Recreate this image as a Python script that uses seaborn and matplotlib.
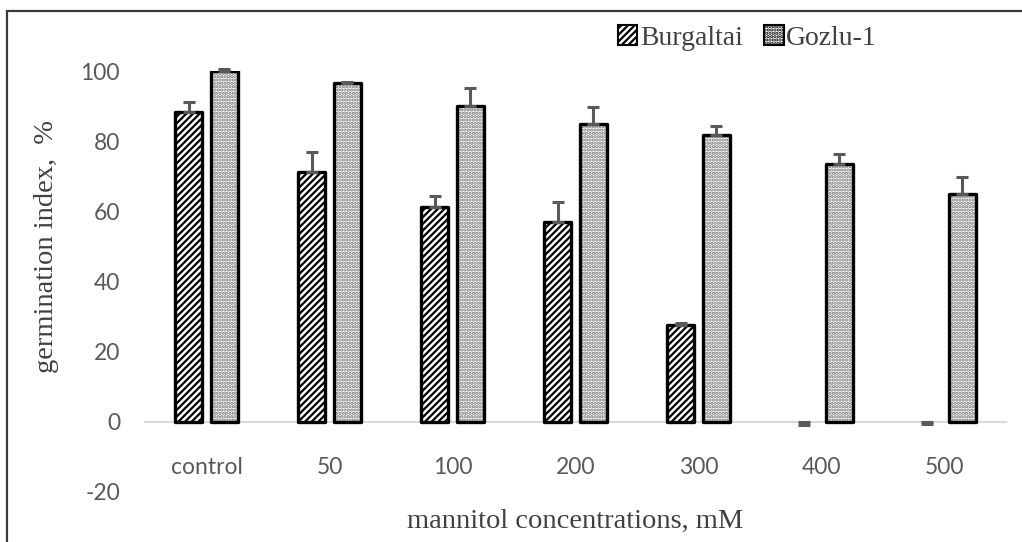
import matplotlib
matplotlib.use("Agg")
import matplotlib.pyplot as plt
import pandas as pd
import seaborn as sns
from matplotlib.patches import Rectangle

# Germination index (%) of two varieties under mannitol stress
categories = ["control", "50", "100", "200", "300", "400", "500"]
series_names = ["Burgaltai", "Gozlu-1"]
burgaltai = [88.2, 71.2, 61.2, 57.0, 27.5, 0.0, 0.0]
burgaltai_err = [3.0, 5.8, 3.3, 5.8, 0.6, 1.0, 0.5]
gozlu = [100.0, 96.5, 90.0, 85.0, 81.8, 73.5, 64.9]
gozlu_err = [0.5, 0.4, 5.2, 4.8, 2.6, 2.8, 5.0]
y_ticks = [-20, 0, 20, 40, 60, 80, 100]

sns.set_theme(style="white")
plt.rcParams["font.family"] = ["Liberation Serif", "DejaVu Serif"]
plt.rcParams["hatch.linewidth"] = 1.6

df = pd.DataFrame({
    "concentration": categories * 2,
    "variety": [series_names[0]] * len(categories) + [series_names[1]] * len(categories),
    "value": burgaltai + gozlu,
})
errors = {series_names[0]: burgaltai_err, series_names[1]: gozlu_err}
hatches = {series_names[0]: "/////", series_names[1]: "....."}
hatch_colors = {series_names[0]: "black", series_names[1]: "#707070"}

W, H = 1022, 542
fig = plt.figure(figsize=(W / 100, H / 100), dpi=100)
ax = fig.add_axes([145 / W, 1 - 492 / H, 861 / W, 421 / H])

sns.barplot(data=df, x="concentration", y="value", hue="variety",
            order=categories, hue_order=series_names,
            palette=["white", "white"], width=0.576, gap=0.236,
            errorbar=None, legend=False, ax=ax, zorder=3)

bars = list(ax.patches)
n = len(categories)
for i, bar in enumerate(bars):
    name = series_names[i // n]
    j = i % n
    h = bar.get_height()
    x0, w = bar.get_x(), bar.get_width()
    if h == 0:
        bar.set_visible(False)
    else:
        bar.set_facecolor("white")
        bar.set_hatch(hatches[name])
        bar.set_edgecolor(hatch_colors[name])
        bar.set_linewidth(0)
        ax.add_patch(Rectangle((x0, 0), w, h, fill=False, edgecolor="black",
                               linewidth=2.4, joinstyle="round", zorder=4))
    err = errors[name][j]
    lower, upper = (0, err) if h > 0 else (err, 0)
    ax.errorbar(x0 + w / 2, h, yerr=[[lower], [upper]], fmt="none",
                ecolor="#595959", elinewidth=2.2, capsize=4.4, capthick=2.2,
                zorder=5, clip_on=False)

ax.set_xlim(-0.5, len(categories) - 0.5)
ax.set_ylim(-20, 100)
ax.set_yticks(y_ticks)
ax.set_yticklabels([str(t) for t in y_ticks])

for side in ["top", "right", "left"]:
    ax.spines[side].set_visible(False)
ax.spines["bottom"].set_position(("data", 0))
ax.spines["bottom"].set_color("#d9d9d9")
ax.spines["bottom"].set_linewidth(1.5)
ax.spines["bottom"].set_zorder(2)
ax.grid(False)

ax.tick_params(axis="x", length=0, pad=25, labelsize=16.5, labelcolor="#595959")
ax.tick_params(axis="y", length=0, pad=18, labelsize=16.5, labelcolor="#595959")
for lab in ax.get_xticklabels() + ax.get_yticklabels():
    lab.set_fontfamily(["Lato", "DejaVu Sans"])

ax.set_xlabel("mannitol concentrations, mM", fontsize=20.5, color="#404040")
ax.xaxis.label.set_verticalalignment("center")
ax.xaxis.set_label_coords(0.5, -0.071)
ax.set_ylabel("germination index,  %", fontsize=20.5, color="#404040")
ax.yaxis.label.set_verticalalignment("center")
ax.yaxis.set_label_coords(-0.114, 0.584)

handles = [Rectangle((0, 0), 1, 1, facecolor="white", edgecolor="black",
                     hatch=hatches[name], linewidth=1.5) for name in series_names]
leg = fig.legend(handles, series_names, loc="center left",
                 bbox_to_anchor=(618 / W, 1 - 38 / H), ncol=2, frameon=False,
                 fontsize=20, handlelength=0.7, handleheight=0.7,
                 handletextpad=0.1, columnspacing=0.75, borderpad=0,
                 borderaxespad=0)
for t in leg.get_texts():
    t.set_color("#404040")

# chart frame (open at right and bottom edges)
fig.add_artist(Rectangle((7 / W, -0.05), 1.1, 1 - 11 / H + 0.05,
                         transform=fig.transFigure, fill=False,
                         edgecolor="#3a3a3a", linewidth=1.6))

fig.savefig("out.png", dpi=100)
